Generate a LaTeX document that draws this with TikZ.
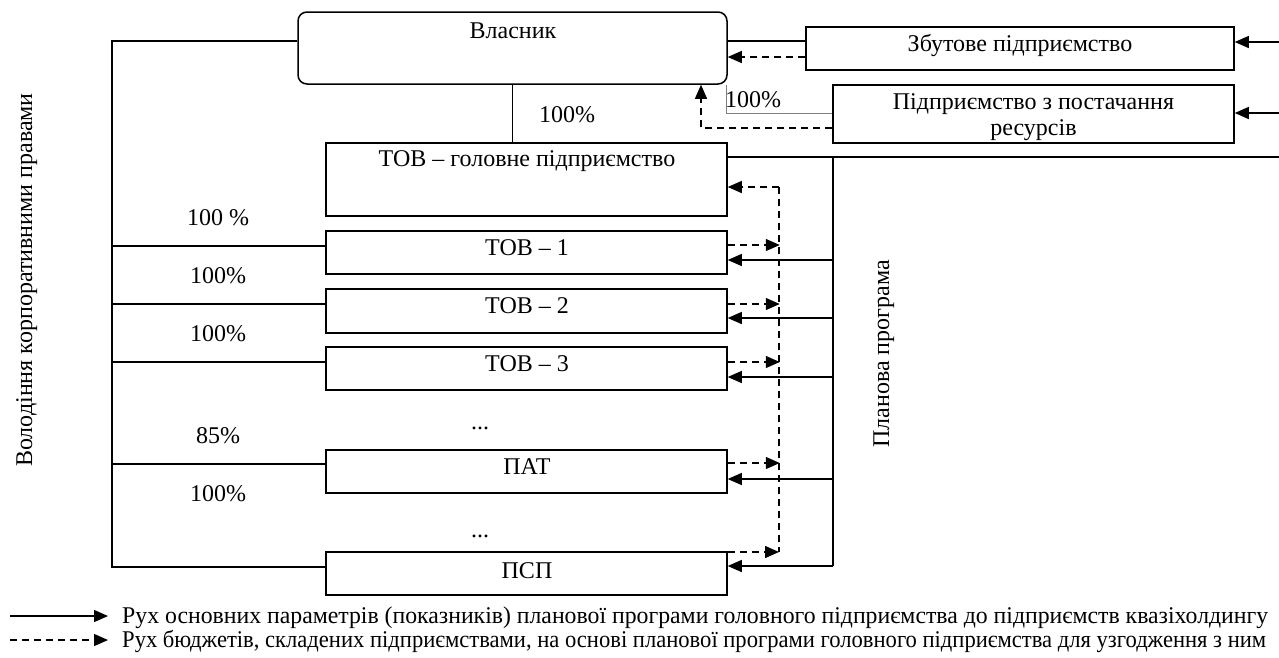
\documentclass[tikz,border=0pt]{standalone}
\usepackage{fontspec}
\setmainfont{Liberation Serif}
\usetikzlibrary{arrows.meta}
\begin{document}
\begin{tikzpicture}[x=1pt,y=-1pt,
  font=\fontsize{24}{26}\selectfont,
  bx/.style={draw,line width=1.5pt,inner sep=0pt},
  ln/.style={line width=1.3pt},
  dsh/.style={line width=1.3pt,dash pattern=on 7pt off 5pt},
  tip/.style={-{Triangle[length=14pt,width=12pt]}},
  tipin/.style={{Triangle[length=14pt,width=12pt]}-},
  txt/.style={inner sep=0pt,anchor=base},
  thin/.style={line width=0.9pt,draw=gray}]
\useasboundingbox (0,0) rectangle (1279,657);

% boxes
\node[bx,rounded corners=9pt,minimum width=429pt,minimum height=72pt] (owner) at (512.5,48) {};
\node[bx,minimum width=428pt,minimum height=43pt] (sales) at (1020,48.5) {};
\node[bx,minimum width=401pt,minimum height=58pt] (supply) at (1033.5,114) {};
\node[bx,minimum width=401pt,minimum height=73pt] (main) at (526.5,179.5) {};
\node[bx,minimum width=401pt,minimum height=43pt] (t1) at (526.5,252.5) {};
\node[bx,minimum width=401pt,minimum height=44pt] (t2) at (526.5,311) {};
\node[bx,minimum width=401pt,minimum height=43pt] (t3) at (526.5,368.5) {};
\node[bx,minimum width=401pt,minimum height=43pt] (pat) at (526.5,471.5) {};
\node[bx,minimum width=401pt,minimum height=43pt] (psp) at (526.5,573.5) {};

% box texts
\node[txt] (ownerT) at (513,38) {Власник};
\node[txt] (salesT) at (1020,51) {Збутове підприємство};
\node[inner sep=0pt,align=center] (supplyT) at (1033.5,117) {Підприємство з постачання\\ресурсів};
\node[txt] (mainT) at (527,166) {ТОВ – головне підприємство};
\node[txt] (t1T) at (527,255) {ТОВ – 1};
\node[txt] (t2T) at (527,313) {ТОВ – 2};
\node[txt] (t3T) at (527,371) {ТОВ – 3};
\node[txt] (patT) at (527,474) {ПАТ};
\node[txt] (pspT) at (527,578) {ПСП};
\node[txt] (dots1) at (480,429) {...};
\node[txt] (dots2) at (480,537) {...};

% percentages
\node[txt] (p0) at (218,225) {100 \%};
\node[txt] (p1) at (218,283) {100\%};
\node[txt] (p2) at (218,341) {100\%};
\node[txt] (p3) at (218,443) {85\%};
\node[txt] (p4) at (218,501) {100\%};
\node[txt] (p5) at (567,122) {100\%};
\node[txt] (p6) at (753,107) {100\%};

% rotated labels
\node[txt,rotate=90] (lblL) at (32,280) {Володіння корпоративними правами};
\node[txt,rotate=90] (lblP) at (889,354) {Планова програма};

% left ownership tree
\coordinate (LT) at (112,41);
\coordinate (LB) at (112,567);
\draw[ln] ([yshift=7pt]owner.west) -- (LT) -- (LB) -- ([yshift=6.5pt]psp.west);
\draw[ln] ([yshift=6.5pt]t1.west) -- ++(-214,0);
\draw[ln] ([yshift=7pt]t2.west) -- ++(-214,0);
\draw[ln] ([yshift=6.5pt]t3.west) -- ++(-214,0);
\draw[ln] ([yshift=7.5pt]pat.west) -- ++(-214,0);

% owner -> main
\draw[ln] (owner.south) -- (owner.south |- main.north);

% owner <-> sales / supply
\draw[ln] ([yshift=7pt]owner.east) -- ([yshift=7.5pt]sales.west);
\draw[dsh,tip] ([yshift=-8.5pt]sales.west) -- ([yshift=-9pt]owner.east);
\draw[thin] ([xshift=-1pt]owner.south east) |- ([yshift=1pt]supply.west);
\draw[dsh,tip] ([yshift=-14pt]supply.west) -| ([xshift=188.5pt]owner.south);

% inputs from the right edge
\coordinate (R1) at (1279,42);
\coordinate (R2) at (1279,113);
\coordinate (R3) at (1279,157);
\draw[ln,tip] (R1) -- ([yshift=6.5pt]sales.east);
\draw[ln,tip] (R2) -- ([yshift=1pt]supply.east);
\draw[ln] ([yshift=22.5pt]main.east) -- (R3);

% planning programme spine
\coordinate (P0) at (833,157);
\coordinate (P1) at (833,566);
\draw[ln] (P0) -- (P1);
\draw[ln,tipin] ([yshift=-7.5pt]t1.east) -- ++(106,0);
\draw[ln,tipin] ([yshift=-7pt]t2.east) -- ++(106,0);
\draw[ln,tipin] ([yshift=-8.5pt]t3.east) -- ++(106,0);
\draw[ln,tipin] ([yshift=-7.5pt]pat.east) -- ++(106,0);
\draw[ln,tipin] ([yshift=7.5pt]psp.east) -- (P1);

% budgets (dashed)
\coordinate (V0) at (779,187);
\coordinate (V1) at (779,552);
\draw[dsh] (V0) -- (V1);
\draw[dsh,tip] (V0) -- ([yshift=-7.5pt]main.east);
\draw[dsh,tip] ([yshift=7.5pt]t1.east) -- ++(52,0);
\draw[dsh,tip] ([yshift=7pt]t2.east) -- ++(52,0);
\draw[dsh,tip] ([yshift=6.5pt]t3.east) -- ++(52,0);
\draw[dsh,tip] ([yshift=8.5pt]pat.east) -- ++(52,0);
\draw[dsh,tip] ([yshift=21.5pt]psp.east) -- (V1);

% legend
\coordinate (lg1a) at (10,616);
\coordinate (lg1b) at (108,616);
\coordinate (lg2a) at (10,640);
\coordinate (lg2b) at (108,640);
\draw[ln,tip] (lg1a) -- (lg1b);
\draw[dsh,tip] (lg2a) -- (lg2b);
\node[inner sep=0pt,anchor=base west] (lgT1) at (122,623) {\resizebox{1146pt}{\height}{Рух основних параметрів (показників) планової програми головного підприємства до підприємств квазіхолдингу}};
\node[inner sep=0pt,anchor=base west] (lgT2) at (122,647) {\resizebox{1144pt}{\height}{Рух бюджетів, складених підприємствами, на основі планової програми головного підприємства для узгодження з ним}};
\end{tikzpicture}
\end{document}
